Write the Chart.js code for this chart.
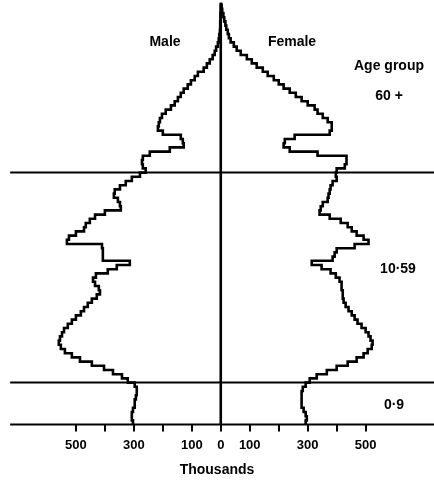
<!DOCTYPE html>
<html>
<head>
<meta charset="utf-8">
<script src="https://cdn.jsdelivr.net/npm/chart.js@4/dist/chart.umd.min.js"></script>
<style>
  html, body { margin: 0; padding: 0; background: #fff; }
  #wrap { position: relative; width: 434px; height: 482px; }
</style>
</head>
<body>
<div id="wrap"><canvas id="c" width="434" height="482"></canvas></div>
<script>
// Population (thousands) by single year of age, 0..99
const male = [303,307,307,303,297,297,293,290,290,297,
  321,341,372,403,445,486,514,538,552,559,
  555,548,541,528,514,500,483,472,459,445,
  428,417,421,434,441,431,390,359,314,407,
  407,407,410,531,524,500,472,466,452,434,
  400,345,348,355,369,366,348,328,307,279,
  259,269,272,269,245,176,128,131,138,200,
  217,214,210,203,190,172,159,148,138,128,
  114,103,90,79,59,48,38,28,21,16,
  10,7,5,3,2,2,1,1,0,0];
const female = [293,297,293,286,279,279,279,279,283,293,
  307,331,366,400,438,469,493,507,521,524,
  517,510,500,486,472,462,452,441,431,424,
  421,421,417,417,410,397,379,348,314,386,
  393,400,462,510,493,469,452,438,414,376,
  341,345,352,369,372,376,379,386,400,397,
  400,428,434,434,334,238,217,221,255,376,
  383,383,369,352,334,324,300,279,259,238,
  217,200,183,162,145,124,107,90,69,55,
  45,34,28,24,19,16,12,9,5,3];
const topAge = 100;
const groupBounds = [0, 10, 60];
const groupLabels = ['60 +', '10·59', '0·9'];
const tickValues = [-500,-400,-300,-200,-100,0,100,200,300,400,500];
const labelledTicks = [0, 100, 300, 500];

const FONT = '"Liberation Sans", Arial, Helvetica, sans-serif';

function outline(vals, sign) {
  const pts = vals.map((v, i) => ({ x: sign * v, y: i }));
  pts.push({ x: 0, y: topAge });
  return pts;
}

const datasets = [
  { data: outline(male, -1), stepped: 'after' },
  { data: outline(female, 1), stepped: 'after' }
].map(d => Object.assign(d, { showLine: true, borderColor: '#000', borderWidth: 2.6, pointRadius: 0, fill: false, clip: false }));

groupBounds.forEach(a => datasets.push({
  data: [{ x: -727, y: a }, { x: 740, y: a }],
  showLine: true, borderColor: '#000', borderWidth: 2, pointRadius: 0, fill: false, clip: false
}));
datasets.push({
  data: [{ x: 0, y: 0 }, { x: 0, y: topAge + 0.5 }],
  showLine: true, borderColor: '#000', borderWidth: 2.6, pointRadius: 0, fill: false, clip: false
});

const textPlugin = {
  id: 'texts',
  afterDatasetsDraw(chart) {
    const ctx = chart.ctx;
    ctx.save();
    ctx.fillStyle = '#000';
    ctx.textAlign = 'center';
    ctx.textBaseline = 'middle';
    ctx.font = 'bold 14px ' + FONT;
    ctx.fillText('Male', 165, 42);
    ctx.fillText('Female', 292, 42);
    ctx.fillText('Age group', 389, 66);
    ctx.fillText(groupLabels[0], 389, 96);
    ctx.fillText(groupLabels[1], 398, 269);
    ctx.fillText(groupLabels[2], 394, 405);
    ctx.restore();
  }
};

new Chart(document.getElementById('c'), {
  type: 'scatter',
  data: { datasets },
  options: {
    responsive: false,
    animation: false,
    layout: { padding: { top: 0, left: 0, right: 0, bottom: 3 } },
    plugins: { legend: { display: false }, tooltip: { enabled: false } },
    scales: {
      x: {
        type: 'linear', min: -762, max: 736,
        afterBuildTicks: axis => { axis.ticks = tickValues.map(v => ({ value: v })); },
        border: { display: false },
        grid: { drawOnChartArea: false, drawTicks: true, tickLength: 7, color: '#000', lineWidth: 2 },
        ticks: {
          padding: 6, color: '#000', maxRotation: 0, autoSkip: false,
          font: { family: FONT, size: 13, weight: 'bold' },
          callback: v => labelledTicks.includes(Math.abs(v)) ? String(Math.abs(v)) : ''
        },
        title: { display: true, text: 'Thousands', color: '#000', padding: { top: 3, bottom: 0 },
                 font: { family: FONT, size: 14, weight: 'bold' } }
      },
      y: { type: 'linear', display: false, min: 0, max: 101.1 }
    }
  },
  plugins: [textPlugin]
});
</script>
</body>
</html>
